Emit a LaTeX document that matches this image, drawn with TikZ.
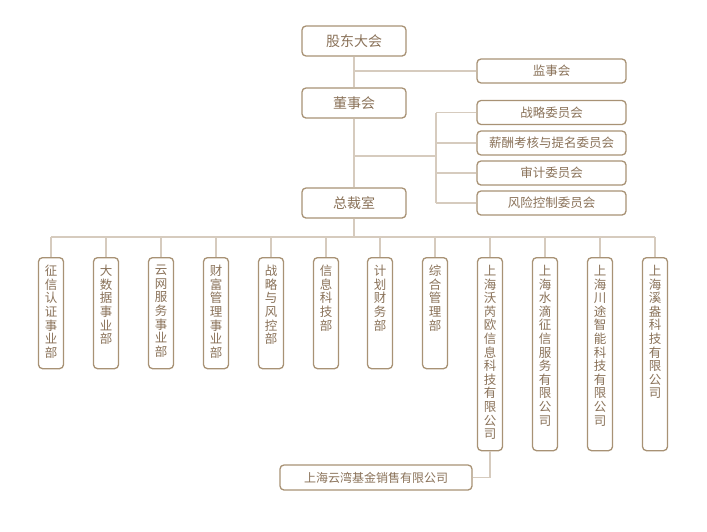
\documentclass[tikz,border=0pt]{standalone}
\usepackage{fontspec}
\setmainfont{Noto Sans CJK SC}
\usetikzlibrary{positioning}
\definecolor{boxclr}{HTML}{A89275}
\definecolor{txtclr}{HTML}{8A7259}
\definecolor{lineclr}{HTML}{D6CBBE}
\tikzset{
  box/.style={draw=boxclr, line width=1.3pt, rounded corners=4pt, fill=white, text=txtclr, inner sep=0pt},
  topbox/.style={box, minimum width=104pt, minimum height=30pt, font=\fontsize{14}{16}\selectfont},
  combox/.style={box, minimum width=149pt, minimum height=24pt, font=\fontsize{12.5}{14}\selectfont},
  deptbox/.style={box, minimum width=25pt, anchor=north},
  vtxt/.style={text=txtclr, inner sep=0pt, align=center, font=\fontsize{12.5}{13.6}\selectfont},
  conn/.style={draw=lineclr, line width=1.2pt},
}
\begin{document}
\begin{tikzpicture}[x=1pt, y=-1pt]
      \fill[white] (0,0) rectangle (707,531);
      \useasboundingbox (0,0) rectangle (707,531);
      %
      \node[topbox] (gd)  at (354,41)  {股东大会};   % top column
      \node[topbox] (dsh) at (354,103) {董事会};
      \node[topbox] (zcs) at (354,203) {总裁室};
      %
      \node[combox] (jsh) at (551.5,71)    {监事会};   % right column
      \node[combox] (zl)  at (551.5,112.5) {战略委员会};
      \node[combox] (xc)  at (551.5,143)   {薪酬考核与提名委员会};
      \node[combox] (sj)  at (551.5,173)   {审计委员会};
      \node[combox] (fx)  at (551.5,203)   {风险控制委员会};
      %
      \node[deptbox, minimum height=111pt] (d1)  at (51,257)  {};   % departments
      \node[deptbox, minimum height=111pt] (d2)  at (106,257) {};
      \node[deptbox, minimum height=111pt] (d3)  at (161,257) {};
      \node[deptbox, minimum height=111pt] (d4)  at (216,257) {};
      \node[deptbox, minimum height=111pt] (d5)  at (271,257) {};
      \node[deptbox, minimum height=111pt] (d6)  at (326,257) {};
      \node[deptbox, minimum height=111pt] (d7)  at (380,257) {};
      \node[deptbox, minimum height=111pt] (d8)  at (435,257) {};
      \node[deptbox, minimum height=193pt] (d9)  at (490,257) {};   % companies
      \node[deptbox, minimum height=193pt] (d10) at (545,257) {};
      \node[deptbox, minimum height=193pt] (d11) at (600,257) {};
      \node[deptbox, minimum height=193pt] (d12) at (655,257) {};
      %
      \node[vtxt, below=8pt of d1.north]  (t1)  {征\\信\\认\\证\\事\\业\\部};
      \node[vtxt, below=8pt of d2.north]  (t2)  {大\\数\\据\\事\\业\\部};
      \node[vtxt, below=8pt of d3.north]  (t3)  {云\\网\\服\\务\\事\\业\\部};
      \node[vtxt, below=8pt of d4.north]  (t4)  {财\\富\\管\\理\\事\\业\\部};
      \node[vtxt, below=8pt of d5.north]  (t5)  {战\\略\\与\\风\\控\\部};
      \node[vtxt, below=8pt of d6.north]  (t6)  {信\\息\\科\\技\\部};
      \node[vtxt, below=8pt of d7.north]  (t7)  {计\\划\\财\\务\\部};
      \node[vtxt, below=8pt of d8.north]  (t8)  {综\\合\\管\\理\\部};
      \node[vtxt, below=8pt of d9.north]  (t9)  {上\\海\\沃\\芮\\欧\\信\\息\\科\\技\\有\\限\\公\\司};
      \node[vtxt, below=8pt of d10.north] (t10) {上\\海\\水\\滴\\征\\信\\服\\务\\有\\限\\公\\司};
      \node[vtxt, below=8pt of d11.north] (t11) {上\\海\\川\\途\\智\\能\\科\\技\\有\\限\\公\\司};
      \node[vtxt, below=8pt of d12.north] (t12) {上\\海\\溪\\盎\\科\\技\\有\\限\\公\\司};
      %
      \node[box, minimum width=192pt, minimum height=25pt, font=\fontsize{12}{14}\selectfont] (yw) at (376,477.5) {上海云湾基金销售有限公司};
      %
      \coordinate (b1)  at (436,156);   % committee bus
      \coordinate (bus) at (354,237);   % department bus
      %
      \draw[conn] (gd) -- (dsh);
      \draw[conn] (gd.south |- jsh.west) -- (jsh.west);
      \draw[conn] (dsh) -- (zcs);
      \draw[conn] (dsh.south |- b1) -- (b1);
      \draw[conn] (b1 |- zl.west) -- (b1 |- fx.west);
      \draw[conn] (b1 |- zl.west) -- (zl.west);
      \draw[conn] (b1 |- xc.west) -- (xc.west);
      \draw[conn] (b1 |- sj.west) -- (sj.west);
      \draw[conn] (b1 |- fx.west) -- (fx.west);
      %
      \draw[conn] (zcs.south) -- (bus);
      \draw[conn] (d1.north |- bus) -- (d12.north |- bus);
      \draw[conn] (d1.north |- bus) -- (d1.north);
      \draw[conn] (d2.north |- bus) -- (d2.north);
      \draw[conn] (d3.north |- bus) -- (d3.north);
      \draw[conn] (d4.north |- bus) -- (d4.north);
      \draw[conn] (d5.north |- bus) -- (d5.north);
      \draw[conn] (d6.north |- bus) -- (d6.north);
      \draw[conn] (d7.north |- bus) -- (d7.north);
      \draw[conn] (d8.north |- bus) -- (d8.north);
      \draw[conn] (d9.north |- bus) -- (d9.north);
      \draw[conn] (d10.north |- bus) -- (d10.north);
      \draw[conn] (d11.north |- bus) -- (d11.north);
      \draw[conn] (d12.north |- bus) -- (d12.north);
      %
      \draw[conn] (d9.south) -- (d9.south |- yw.east) -- (yw.east);
      %
    \end{tikzpicture}
\end{document}
